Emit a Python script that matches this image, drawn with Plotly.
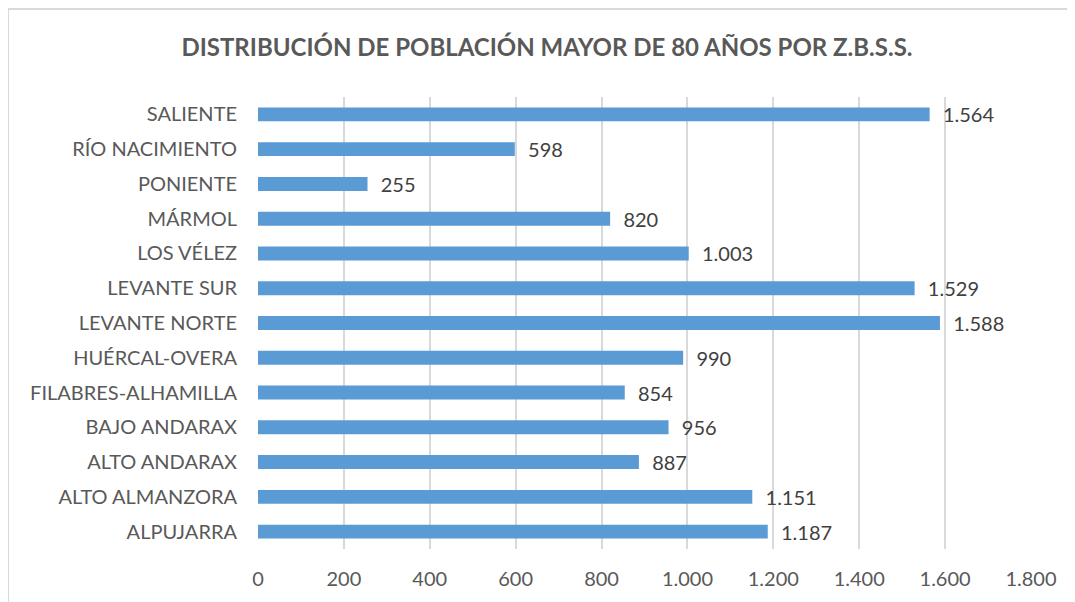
import plotly.graph_objects as go

categories = ["ALPUJARRA", "ALTO ALMANZORA", "ALTO ANDARAX", "BAJO ANDARAX",
              "FILABRES-ALHAMILLA", "HUÉRCAL-OVERA", "LEVANTE NORTE", "LEVANTE SUR",
              "LOS VÉLEZ", "MÁRMOL", "PONIENTE", "RÍO NACIMIENTO", "SALIENTE"]
values = [1187, 1151, 887, 956, 854, 990, 1588, 1529, 1003, 820, 255, 598, 1564]
tick_values = [0, 200, 400, 600, 800, 1000, 1200, 1400, 1600, 1800]

title_text = "DISTRIBUCIÓN DE POBLACIÓN MAYOR DE 80 AÑOS POR Z.B.S.S."

gray = "#595959"
font_fam = "Lato, 'Open Sans', sans-serif"

fig = go.Figure(go.Bar(
    x=values, y=categories, orientation="h",
    marker=dict(color="#5B9BD5", line=dict(width=0)),
    width=0.4,
    texttemplate="&nbsp;&nbsp;%{x:,d}", textposition="outside",
    constraintext="none",
    textfont=dict(family=font_fam, size=20, color="#404040"),
    cliponaxis=False,
))

# page has an 8px body margin
W, H = 1067, 594
L, R, T, B = 250, 44, 89, 53
pw, ph = W - L - R, H - T - B

fig.update_layout(
    width=W, height=H,
    margin=dict(l=L, r=R, t=T, b=B, autoexpand=False),
    paper_bgcolor="white", plot_bgcolor="white",
    separators=",.",
    showlegend=False,
    title=dict(text="<b>" + title_text + "</b>", x=539 / W, xanchor="center",
               y=1 - 40 / H, yanchor="middle",
               font=dict(family=font_fam, size=24, color=gray)),
    xaxis=dict(range=[0, 1800], tickvals=tick_values, tickformat=",d",
               showgrid=True, gridcolor="#D9D9D9", gridwidth=1.5,
               zeroline=False, showline=False, ticks="", automargin=False,
               tickfont=dict(family=font_fam, size=20, color=gray),
               ticklabelstandoff=16),
    yaxis=dict(showgrid=False, showline=False, ticks="", zeroline=False,
               automargin=False,
               tickfont=dict(family=font_fam, size=20, color=gray),
               ticklabelstandoff=20),
    shapes=[dict(type="rect", xref="paper", yref="paper",
                 x0=(0 - L) / pw, x1=(W + 5 - L) / pw,
                 y0=-0.3, y1=1 + (T - 1) / ph,
                 line=dict(color="#D9D9D9", width=2),
                 fillcolor="rgba(0,0,0,0)", layer="below")],
)

fig.write_html("out.html")
